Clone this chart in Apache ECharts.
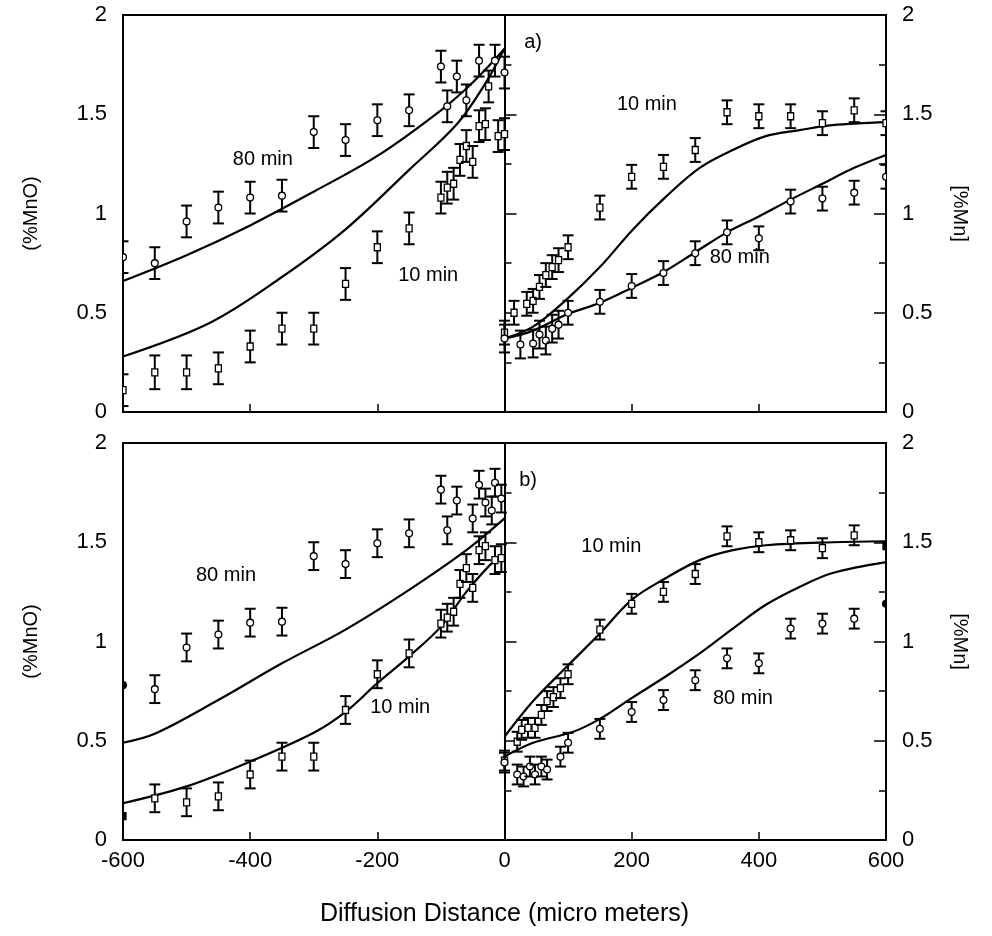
<!DOCTYPE html>
<html><head><meta charset="utf-8">
<script src="https://cdn.jsdelivr.net/npm/echarts@6/dist/echarts.min.js"></script>
<style>html,body{margin:0;padding:0;background:#fff}#c{width:992px;height:936px}</style>
</head><body><div id="c"></div>
<script>
// ---------- Panel a) data ----------
const a10L_x = [-600,-550,-500,-450,-400,-350,-300,-250,-200,-150,-100,-90,-80,-70,-60,-50,-40,-30,-25,-10,0];
const a10L_y = [0.11,0.20,0.20,0.22,0.33,0.42,0.42,0.645,0.83,0.925,1.08,1.13,1.15,1.27,1.34,1.26,1.44,1.45,1.64,1.39,1.40];
const a10L_e = [0.08,0.085,0.085,0.08,0.08,0.08,0.08,0.08,0.08,0.08,0.08,0.08,0.08,0.08,0.08,0.08,0.08,0.08,0.08,0.08,0.08];
const a80L_x = [-600,-550,-500,-450,-400,-350,-300,-250,-200,-150,-100,-90,-75,-60,-40,-15,0];
const a80L_y = [0.78,0.75,0.96,1.03,1.08,1.09,1.41,1.37,1.47,1.52,1.74,1.54,1.69,1.57,1.77,1.77,1.71];
const a80L_e = [0.08,0.08,0.08,0.08,0.08,0.08,0.08,0.08,0.08,0.08,0.08,0.08,0.08,0.08,0.08,0.08,0.08];
const a10R_x = [0,15,35,45,55,65,75,85,100,150,200,250,300,350,400,450,500,550,600];
const a10R_y = [0.40,0.50,0.545,0.56,0.63,0.69,0.73,0.765,0.83,1.03,1.185,1.235,1.32,1.51,1.49,1.49,1.455,1.52,1.455];
const a10R_e = [0.06,0.06,0.06,0.06,0.06,0.06,0.06,0.06,0.06,0.06,0.06,0.06,0.06,0.06,0.06,0.06,0.06,0.06,0.06];
const a80R_x = [0,25,45,55,65,75,85,100,150,200,250,300,350,400,450,500,550,600];
const a80R_y = [0.37,0.34,0.345,0.39,0.36,0.42,0.44,0.50,0.555,0.635,0.70,0.80,0.905,0.875,1.06,1.075,1.105,1.185];
const a80R_e = [0.07,0.07,0.07,0.07,0.07,0.07,0.07,0.06,0.06,0.06,0.06,0.06,0.06,0.06,0.06,0.06,0.06,0.06];
// fitted curves a)
const aC80L_x = [-600,-500,-400,-300,-200,-100,-50,0];
const aC80L_y = [0.66,0.79,0.94,1.11,1.29,1.52,1.66,1.83];
const aC10L_x = [-600,-463,-350,-250,-150,-75,-33,0];
const aC10L_y = [0.28,0.45,0.68,0.92,1.22,1.45,1.64,1.83];
const aC10R_x = [0,45,97,150,202,254,307,359,411,464,516,600];
const aC10R_y = [0.37,0.43,0.565,0.73,0.92,1.085,1.23,1.32,1.39,1.42,1.445,1.46];
const aC80R_x = [0,45,97,150,200,250,300,350,400,450,500,550,600];
const aC80R_y = [0.37,0.41,0.49,0.55,0.625,0.705,0.805,0.905,0.985,1.07,1.15,1.23,1.295];

// ---------- Panel b) data ----------
const b10L_x = [-600,-550,-500,-450,-400,-350,-300,-250,-200,-150,-100,-90,-80,-70,-60,-50,-40,-30,-15,-5];
const b10L_y = [0.12,0.21,0.19,0.22,0.33,0.42,0.42,0.655,0.835,0.94,1.09,1.12,1.15,1.29,1.37,1.27,1.46,1.48,1.41,1.42];
const b10L_e = [0.0,0.07,0.07,0.07,0.07,0.07,0.07,0.07,0.07,0.07,0.07,0.07,0.07,0.07,0.07,0.07,0.07,0.07,0.07,0.07];
const b80L_x = [-600,-550,-500,-450,-400,-350,-300,-250,-200,-150,-100,-90,-75,-50,-40,-30,-20,-15,-5];
const b80L_y = [0.78,0.76,0.97,1.035,1.095,1.10,1.43,1.39,1.495,1.545,1.765,1.56,1.71,1.62,1.79,1.70,1.66,1.80,1.72];
const b80L_e = [0.0,0.07,0.07,0.07,0.07,0.07,0.07,0.07,0.07,0.07,0.07,0.07,0.07,0.07,0.07,0.07,0.07,0.07,0.07];
const b10R_x = [0,20,27,37,48,58,67,77,88,100,150,200,250,300,350,400,450,500,550,600];
const b10R_y = [0.40,0.495,0.555,0.565,0.565,0.63,0.70,0.72,0.765,0.835,1.06,1.19,1.25,1.34,1.53,1.50,1.51,1.47,1.535,1.48];
const b10R_e = [0.05,0.05,0.05,0.05,0.05,0.05,0.05,0.05,0.05,0.05,0.05,0.05,0.05,0.05,0.05,0.05,0.05,0.05,0.05,0.0];
const b80R_x = [0,20,30,40,48,58,67,88,100,150,200,250,300,350,400,450,500,550,600];
const b80R_y = [0.39,0.33,0.32,0.37,0.33,0.37,0.355,0.42,0.49,0.56,0.645,0.705,0.805,0.915,0.89,1.065,1.09,1.115,1.19];
const b80R_e = [0.05,0.05,0.05,0.05,0.05,0.05,0.05,0.05,0.05,0.05,0.05,0.05,0.05,0.05,0.05,0.05,0.05,0.05,0.0];
// fitted curves b)
const bC80L_x = [-600,-550,-453,-350,-250,-150,-60,0];
const bC80L_y = [0.49,0.535,0.70,0.89,1.06,1.26,1.46,1.62];
const bC10L_x = [-600,-500,-400,-300,-250,-200,-150,-100,-60,-15,0];
const bC10L_y = [0.185,0.27,0.395,0.54,0.645,0.79,0.925,1.075,1.25,1.41,1.43];
const bC10R_x = [0,45,97,150,200,254,307,359,411,516,600];
const bC10R_y = [0.52,0.70,0.87,1.04,1.21,1.32,1.41,1.46,1.485,1.50,1.505];
const bC80R_x = [0,45,108,150,200,254,307,359,411,464,516,600];
const bC80R_y = [0.42,0.49,0.545,0.61,0.715,0.825,0.94,1.065,1.185,1.275,1.345,1.40];

// ---------- text ----------
const xTicks = [-600,-400,-200,0,200,400,600];
const yLeftName = '(%MnO)';
const yRightName = '[%Mn]';
const xName = 'Diffusion Distance (micro meters)';
const annA_text = ['80 min','10 min','10 min','80 min','a)'];
const annA_x = [-380,-120,224,370,45];
const annA_y = [1.27,0.69,1.55,0.78,1.86];
const annB_text = ['80 min','10 min','10 min','80 min','b)'];
const annB_x = [-438,-164,168,375,37];
const annB_y = [1.335,0.67,1.48,0.715,1.81];

const FONT = 'Liberation Sans';
const chart = echarts.init(document.getElementById('c'));

function zip(xs, ys){ return xs.map((x,i)=>[x, ys[i]]); }

function errSeries(g, xs, ys, es, shape){
  return {
    type:'custom', xAxisIndex:g, yAxisIndex:2*g, clip:true, z:5,
    data: xs.map((x,i)=>[x, ys[i], es[i]]),
    renderItem:function(params, api){
      const x=api.value(0), y=api.value(1), e=api.value(2);
      const p=api.coord([x,y]);
      const hi=api.coord([x,y+e]), lo=api.coord([x,y-e]);
      const cw=5.5;
      const st={stroke:'#000', lineWidth:2};
      const ch=[];
      if(e>0){
        ch.push({type:'line', shape:{x1:p[0],y1:hi[1],x2:p[0],y2:lo[1]}, style:st});
        ch.push({type:'line', shape:{x1:p[0]-cw,y1:hi[1],x2:p[0]+cw,y2:hi[1]}, style:st});
        ch.push({type:'line', shape:{x1:p[0]-cw,y1:lo[1],x2:p[0]+cw,y2:lo[1]}, style:st});
      }
      const fill = (e===0) ? '#000' : '#fff';
      if(shape==='rect'){
        ch.push({type:'rect', shape:{x:p[0]-3,y:p[1]-3.5,width:6,height:7}, style:{fill:fill, stroke:'#000', lineWidth:1.3}});
      } else {
        ch.push({type:'circle', shape:{cx:p[0],cy:p[1],r:3.4}, style:{fill:fill, stroke:'#000', lineWidth:1.3}});
      }
      return {type:'group', children:ch};
    }
  };
}
function curve(g, xs, ys){
  return {type:'line', xAxisIndex:g, yAxisIndex:2*g, data:zip(xs,ys), smooth:0.35,
    showSymbol:false, symbol:'none', lineStyle:{color:'#000', width:2.2}, z:4, silent:true};
}
function annot(g, xs, ys, texts){
  return {type:'custom', xAxisIndex:g, yAxisIndex:2*g, z:6, silent:true,
    data: xs.map((x,i)=>[x, ys[i]]),
    renderItem:function(params, api){
      const p=api.coord([api.value(0), api.value(1)]);
      return {type:'text', style:{text:texts[params.dataIndex], x:p[0], y:p[1],
        align:'center', verticalAlign:'middle', fill:'#000', font:'20px "'+FONT+'"'}};
    }};
}
function vline(g){
  return {type:'line', xAxisIndex:g, yAxisIndex:2*g, data:[], silent:true,
    markLine:{symbol:'none', silent:true, label:{show:false},
      lineStyle:{color:'#000', width:1.6, type:'solid'}, data:[{xAxis:0}]}};
}

const gridTop=[15, 443], gridH=397;
const grids = gridTop.map(t=>({left:123, right:106, top:t, height:gridH,
  show:true, borderColor:'#000', borderWidth:2, backgroundColor:'transparent'}));

function xAx(g, showLabels){
  return {type:'value', gridIndex:g, min:-600, max:600, interval:200,
    axisLine:{show:true, lineStyle:{color:'#000', width:2}},
    axisTick:{show:true, inside:true, length:8, lineStyle:{color:'#000', width:1.5}},
    splitLine:{show:false},
    axisLabel:{show:showLabels, color:'#000', fontSize:22, fontFamily:FONT, margin:10,
      formatter:v=> xTicks.indexOf(v)>=0 ? String(v) : ''},
    name: showLabels ? xName : '', nameLocation:'middle', nameGap:62,
    nameTextStyle:{color:'#000', fontSize:25, fontFamily:FONT}};
}
function yAx(g, pos){
  return {type:'value', gridIndex:g, position:pos, min:0, max:2, interval:0.5,
    axisLine:{show:true, lineStyle:{color:'#000', width:2}},
    axisTick:{show:true, inside:true, length:12, lineStyle:{color:'#000', width:1.5}},
    minorTick:{show:true, splitNumber:2, length:7, lineStyle:{color:'#000', width:1.5}},
    splitLine:{show:false}, minorSplitLine:{show:false},
    axisLabel:{show:true, color:'#000', fontSize:22, fontFamily:FONT, margin:16},
    name: pos==='left' ? yLeftName : yRightName, nameLocation:'middle',
    nameGap: pos==='left' ? 82 : 64, nameRotate: pos==='left' ? 90 : -90,
    nameTextStyle:{color:'#000', fontSize:20, fontFamily:FONT}};
}

const series = [
  vline(0), vline(1),
  curve(0,aC80L_x,aC80L_y), curve(0,aC10L_x,aC10L_y), curve(0,aC10R_x,aC10R_y), curve(0,aC80R_x,aC80R_y),
  curve(1,bC80L_x,bC80L_y), curve(1,bC10L_x,bC10L_y), curve(1,bC10R_x,bC10R_y), curve(1,bC80R_x,bC80R_y),
  errSeries(0,a10L_x,a10L_y,a10L_e,'rect'), errSeries(0,a80L_x,a80L_y,a80L_e,'circle'),
  errSeries(0,a10R_x,a10R_y,a10R_e,'rect'), errSeries(0,a80R_x,a80R_y,a80R_e,'circle'),
  errSeries(1,b10L_x,b10L_y,b10L_e,'rect'), errSeries(1,b80L_x,b80L_y,b80L_e,'circle'),
  errSeries(1,b10R_x,b10R_y,b10R_e,'rect'), errSeries(1,b80R_x,b80R_y,b80R_e,'circle'),
  annot(0,annA_x,annA_y,annA_text), annot(1,annB_x,annB_y,annB_text)
];

chart.setOption({
  animation:false,
  backgroundColor:'#fff',
  grid: grids,
  xAxis: [xAx(0,false), xAx(1,true)],
  yAxis: [yAx(0,'left'), yAx(0,'right'), yAx(1,'left'), yAx(1,'right')],
  series: series
});
</script></body></html>
